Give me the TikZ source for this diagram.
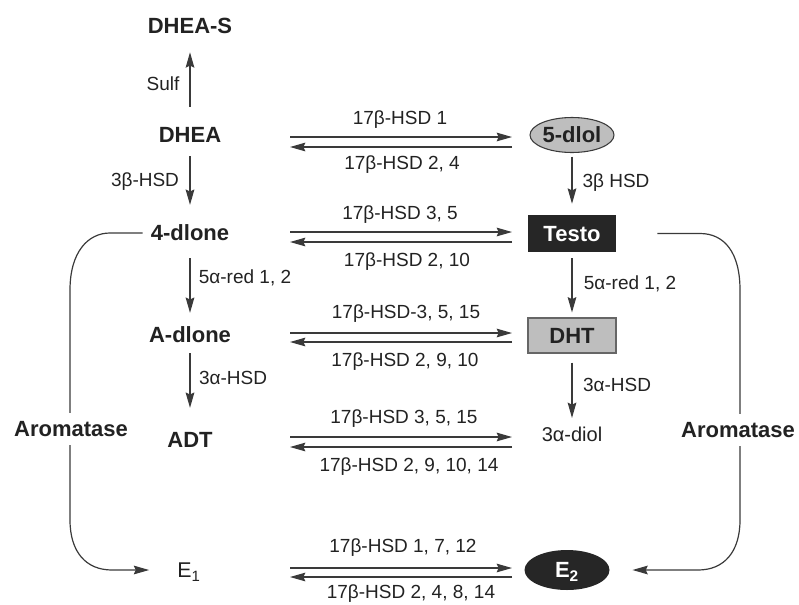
\documentclass[tikz,border=0pt]{standalone}
\usepackage{fontspec}
\setmainfont{Liberation Sans}
\usetikzlibrary{arrows.meta,shapes.geometric}
\definecolor{ln}{HTML}{3A3A3A}
\definecolor{tx}{HTML}{222222}
\definecolor{gfill}{HTML}{BEBEBE}
\definecolor{bfill}{HTML}{262626}
\begin{document}
\begin{tikzpicture}[x=0.75pt,y=-0.75pt,
  arr/.style={draw=ln, line width=0.9pt, -{Stealth[length=11.5pt,width=6.5pt,inset=1.5pt]}},
  cmp/.style={font=\fontsize{16.5}{18}\selectfont\bfseries, inner sep=0pt, text height=11.8pt, text depth=0pt, text=tx},
  plain/.style={font=\fontsize{14.25}{16}\selectfont, inner sep=0pt, text height=10.2pt, text depth=0pt, text=tx},
  enz/.style={plain},
  boxd/.style={cmp, rectangle, minimum width=66pt},
  ell/.style={cmp, ellipse, inner xsep=-1.5pt, inner ysep=0pt},
  arom/.style={cmp, fill=white, inner xsep=2pt, inner ysep=6pt}]
\useasboundingbox (0,0) rectangle (799,604);

% left column
\node[cmp] (dheas) at (190,25.5) {DHEA-S};
\node[cmp] (dhea) at (190,135) {DHEA};
\node[cmp] (dlone4) at (190,233) {4-dlone};
\node[cmp] (adlone) at (190,335) {A-dlone};
\node[cmp] (adt) at (190,440) {ADT};
\node[plain, font=\fontsize{16}{18}\selectfont, text height=11.4pt] (e1) at (189,570) {E\textsubscript{1}};

% right column
\node[ell, fill=gfill, draw=ln, line width=0.8pt, minimum width=63pt, minimum height=26.25pt] (dlol5) at (572,135) {5-dlol};
\node[boxd, fill=bfill, text=white, minimum height=27.75pt] (testo) at (572,233.5) {Testo};
\node[boxd, fill=gfill, draw=gray!80!black, line width=0.8pt, minimum height=26.25pt] (dht) at (572,335.5) {DHT};
\node[plain, font=\fontsize{15}{17}\selectfont] (diol) at (572,435) {3α-diol};
\node[ell, fill=bfill, text=white, minimum width=63.75pt, minimum height=30pt] (e2) at (567,570) {E\textsubscript{2}};

% vertical arrows left
\draw[arr, shorten <=15pt, shorten >=14pt] (dhea) -- (dheas);
\draw[arr, shorten <=9.75pt, shorten >=15pt] (dhea) -- (dlone4);
\draw[arr, shorten <=12.75pt, shorten >=10.5pt] (dlone4) -- (adlone);
\draw[arr, shorten <=7.5pt, shorten >=18pt] (adlone) -- (adt);

% vertical arrows right
\draw[arr, shorten <=2.6pt, shorten >=8.25pt] (dlol5) -- (testo);
\draw[arr, shorten <=4.5pt, shorten >=3.75pt] (testo) -- (dht);
\draw[arr, shorten <=6.75pt, shorten >=7.5pt] (dht) -- (diol);

% enzyme labels on vertical arrows
\node[enz] (lsulf) at (163,84) {Sulf};
\node[enz] (l3b) at (145,180) {3β-HSD};
\node[enz] (l5a) at (245,277) {5α-red 1, 2};
\node[enz] (l3a) at (233,378) {3α-HSD};
\node[enz] (r3b) at (616,181) {3β HSD};
\node[enz] (r5a) at (630,283) {5α-red 1, 2};
\node[enz] (r3a) at (617,385) {3α-HSD};

% horizontal arrow pairs
\foreach \r/\ya/\yb in {1/137/147, 2/232/242, 3/333/342, 4/437/447, 5/568/577}{
  \coordinate (h\r a) at (290,\ya);
  \coordinate (h\r b) at (512,\ya);
  \coordinate (h\r c) at (290,\yb);
  \coordinate (h\r d) at (512,\yb);
  \draw[arr] (h\r a) -- (h\r b);
  \draw[arr] (h\r d) -- (h\r c);
}

% labels of horizontal arrows
\node[enz] (t1) at (400,118) {17β-HSD 1};
\node[enz] (b1) at (402,163) {17β-HSD 2, 4};
\node[enz] (t2) at (400,213) {17β-HSD 3, 5};
\node[enz] (b2) at (407,260) {17β-HSD 2, 10};
\node[enz] (t3) at (406,312) {17β-HSD-3, 5, 15};
\node[enz] (b3) at (405,360) {17β-HSD 2, 9, 10};
\node[enz] (t4) at (404,417) {17β-HSD 3, 5, 15};
\node[enz] (b4) at (409,465) {17β-HSD 2, 9, 10, 14};
\node[enz] (t5) at (403,546) {17β-HSD 1, 7, 12};
\node[enz] (b5) at (411,592) {17β-HSD 2, 4, 8, 14};

% aromatase paths
\draw[arr, shorten <=6pt, shorten >=21pt] (dlone4.west) -- (110,233)
  .. controls (88,233) and (70,252) .. (70,290) -- (70,520)
  .. controls (70,552) and (86,570) .. (112,570) -- (e1.west);
\draw[arr, shorten <=30.75pt, shorten >=17pt] (testo.east) -- (700,233.5)
  .. controls (724,233.5) and (740,252) .. (740,290) -- (740,520)
  .. controls (740,552) and (724,570) .. (698,570) -- (e2.east);
\node[arom] (aroml) at (71,429) {Aromatase};
\node[arom] (aromr) at (738,430) {Aromatase};
\end{tikzpicture}
\end{document}
